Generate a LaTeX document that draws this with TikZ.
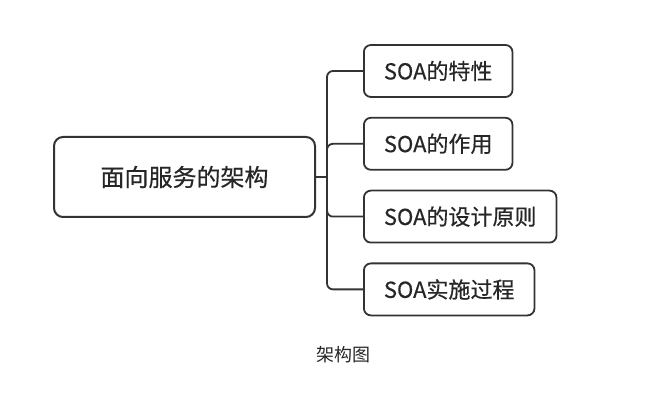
\documentclass[tikz,border=0pt]{standalone}
\usepackage{fontspec}
\setmainfont{Noto Sans CJK SC}
\newfontfamily\boxfont[FakeBold=0.5]{Noto Sans CJK SC}
\usetikzlibrary{positioning}

\definecolor{linegray}{HTML}{333333}
\definecolor{textgray}{HTML}{262626}

\begin{document}
\begin{tikzpicture}[
    x=1pt, y=1pt,
    node distance=19pt,
    topic/.style={
        rectangle,
        draw=linegray,
        line width=2pt,
        rounded corners=9pt,
        minimum width=261pt,
        minimum height=80pt,
        text=textgray,
        font=\boxfont\fontsize{24}{28}\selectfont
    },
    item/.style={
        rectangle,
        draw=linegray,
        line width=1.8pt,
        rounded corners=7pt,
        minimum height=52pt,
        inner xsep=20pt,
        text=textgray,
        font=\boxfont\fontsize{22}{26}\selectfont
    },
    branch/.style={
        draw=linegray,
        line width=1.8pt,
        rounded corners=6pt
    }
]
\useasboundingbox (0,0) rectangle (658,407);

% Root topic
\node[topic] (root) at (184.5,230) {面向服务的架构};

% Sub topics
\node[item, anchor=west] (item1) at (363,336) {SOA的特性};
\node[item, below=19pt of item1.south west, anchor=north west] (item2) {SOA的作用};
\node[item, below=19pt of item2.south west, anchor=north west] (item3) {SOA的设计原则};
\node[item, below=19pt of item3.south west, anchor=north west] (item4) {SOA实施过程};

% Connectors
\coordinate (spine) at ([xshift=11pt]root.east);
\draw[branch] (root.east) -- (spine);
\draw[branch] (spine) |- (item1.west);
\draw[branch] (spine) |- (item2.west);
\draw[branch] (spine) |- (item3.west);
\draw[branch] (spine) |- (item4.west);

% Caption
\node[text=textgray, font=\fontsize{18}{22}\selectfont] (caption) at (343,52) {架构图};

\end{tikzpicture}
\end{document}
